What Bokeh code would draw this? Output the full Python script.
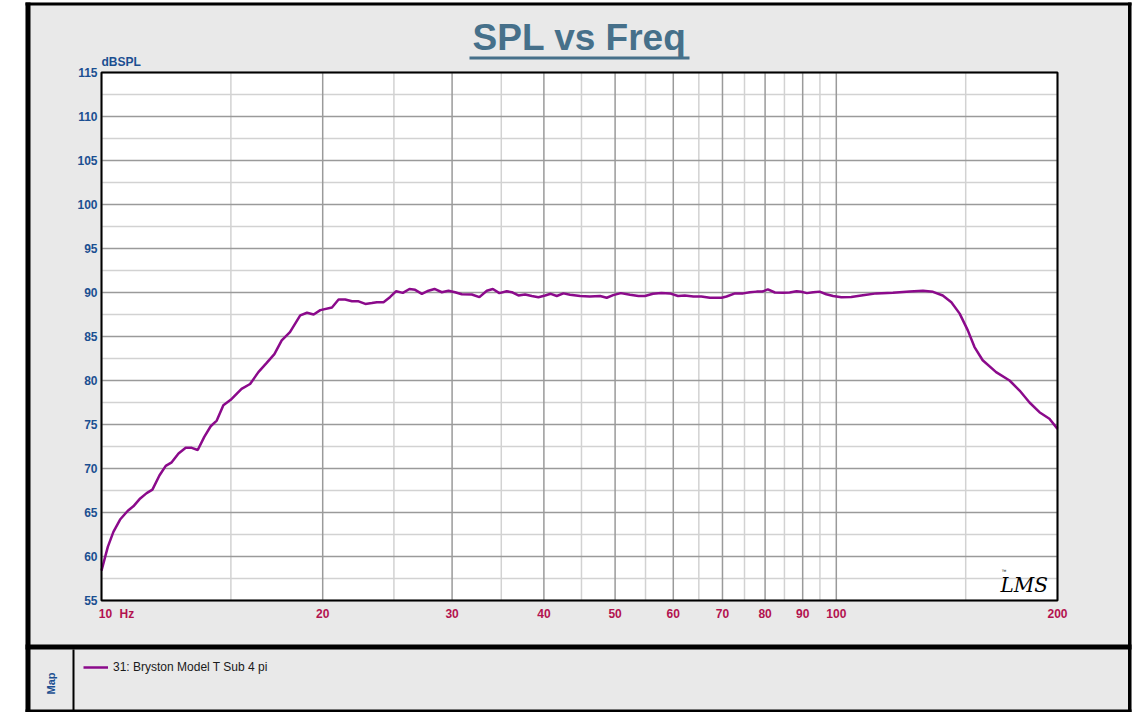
import math
from bokeh.plotting import figure
from bokeh.models import Range1d, LogScale, Legend, LegendItem
from bokeh.core.properties import value
from bokeh.embed import file_html
from bokeh.resources import INLINE

# ---- data ----
freq = [10.0, 10.2, 10.38, 10.6, 10.86, 11.05, 11.29, 11.52, 11.73, 11.99,
        12.23, 12.46, 12.73, 13.02, 13.27, 13.52, 13.8, 14.08, 14.35, 14.65,
        14.99, 15.51, 15.93, 16.35, 16.78, 17.19, 17.59, 18.05, 18.64, 19.04,
        19.44, 19.85, 20.59, 21.02, 21.46, 21.92, 22.38, 22.86, 23.33, 23.7,
        24.2, 24.71, 25.18, 25.71, 26.25, 26.72, 27.29, 27.86, 28.39, 29.05,
        29.66, 30.28, 30.93, 31.91, 32.68, 33.45, 34.09, 34.79, 35.6, 36.17,
        36.93, 37.71, 38.51, 39.32, 40.15, 40.87, 41.65, 42.52, 43.42, 44.8,
        46.2, 47.7, 48.7, 49.7, 50.9, 52.4, 53.8, 54.9, 56.3, 57.8,
        59.35, 60.9, 62.2, 63.9, 65.5, 67.3, 69.8, 70.9, 72.8, 74.7,
        76.3, 77.9, 79.3, 80.7, 82.5, 84.6, 86.4, 88.3, 89.6, 91.2,
        93.0, 94.9, 96.9, 99.0, 101.6, 104.8, 108.7, 113.4, 119.4, 125.9,
        131.2, 135.4, 139.6, 143.4, 147.2, 151.0, 154.2, 158.2, 165.0, 172.1,
        177.6, 183.2, 189.0, 195.0, 200.0]
spl = [58.4, 61.1, 62.8, 64.2, 65.2, 65.7, 66.6, 67.2, 67.6, 69.2,
       70.3, 70.7, 71.7, 72.35, 72.35, 72.1, 73.6, 74.8, 75.45, 77.2,
       77.8, 79.05, 79.6, 80.95, 82.0, 83.0, 84.55, 85.5, 87.4, 87.7,
       87.5, 88.0, 88.3, 89.2, 89.2, 89.0, 89.0, 88.7, 88.8, 88.9,
       88.9, 89.5, 90.15, 89.96, 90.4, 90.3, 89.85, 90.2, 90.4, 90.03,
       90.2, 90.03, 89.8, 89.77, 89.47, 90.2, 90.4, 89.93, 90.15, 90.03,
       89.66, 89.77, 89.6, 89.47, 89.66, 89.85, 89.6, 89.9, 89.74, 89.6,
       89.55, 89.6, 89.4, 89.7, 89.93, 89.74, 89.6, 89.6, 89.85, 89.93,
       89.9, 89.6, 89.66, 89.55, 89.55, 89.4, 89.4, 89.55, 89.9, 89.9,
       90.03, 90.1, 90.1, 90.35, 90.0, 89.96, 90.0, 90.15, 90.08, 89.93,
       90.03, 90.1, 89.8, 89.6, 89.47, 89.5, 89.7, 89.9, 89.96, 90.1,
       90.2, 90.08, 89.66, 88.9, 87.6, 85.7, 83.8, 82.3, 80.95, 80.0,
       78.86, 77.5, 76.4, 75.65, 74.5]
series_name = "31: Bryston Model T Sub 4 pi"
title_text = "SPL vs Freq"
y_unit = "dBSPL"
x_unit = "Hz"
x_major = [10, 20, 30, 40, 50, 60, 70, 80, 90, 100, 200]
x_minor = [15, 25, 35, 45, 55, 65, 75, 85, 95, 150]
y_major = [55, 60, 65, 70, 75, 80, 85, 90, 95, 100, 105, 110, 115]
y_minor = [57.5, 62.5, 67.5, 72.5, 77.5, 82.5, 87.5, 92.5, 97.5, 102.5, 107.5, 112.5]

# ---- style / layout ----
FONT = "Liberation Sans"
BLUE = "#1b4f91"
CRIMSON = "#b3124f"
PURPLE = "#8b0a8b"
TITLE = "#46708a"
PANEL = "#e9e9e9"
W, H = 1132, 712
X0, X1, Y0, Y1 = 101, 1057, 72, 600          # plot area on the canvas (px)
F0, F1, S0, S1 = 10, 200, 55, 115             # plot area in data units

dec = (X1 - X0) / math.log10(F1 / F0)
pxdb = (Y1 - Y0) / (S1 - S0)

p = figure(width=W, height=H, min_border=0, title=None,
           x_range=Range1d(0, W), y_range=Range1d(H, 0),
           x_axis_location=None, y_axis_location=None,
           toolbar_location=None, output_backend="svg",
           outline_line_color=None, background_fill_color="white", border_fill_color="white")
p.grid.visible = False
p.extra_x_ranges = {"f": Range1d(F0 * 10 ** (-X0 / dec), F1 * 10 ** ((W - X1) / dec))}
p.extra_x_scales = {"f": LogScale()}
p.extra_y_ranges = {"s": Range1d(S0 - (H - Y1) / pxdb, S1 + Y0 / pxdb)}

# panels
p.quad(left=[25], right=[1131], top=[2], bottom=[H], fill_color=PANEL, line_color=None)
# plot area
p.quad(left=[F0], right=[F1], bottom=[S0], top=[S1], x_range_name="f", y_range_name="s",
       fill_color="white", line_color=None)

# grid
p.segment(x0=x_minor, x1=x_minor, y0=S0, y1=S1, x_range_name="f", y_range_name="s",
          line_color="#d2d2d2", line_width=1.5)
p.segment(x0=F0, x1=F1, y0=y_minor, y1=y_minor, x_range_name="f", y_range_name="s",
          line_color="#d2d2d2", line_width=1.5)
p.segment(x0=x_major, x1=x_major, y0=S0, y1=S1, x_range_name="f", y_range_name="s",
          line_color="#9a9a9a", line_width=1.5)
p.segment(x0=F0, x1=F1, y0=y_major, y1=y_major, x_range_name="f", y_range_name="s",
          line_color="#9a9a9a", line_width=1.5)

# data
r = p.line(freq, spl, x_range_name="f", y_range_name="s", line_color=PURPLE, line_width=2.5)

# plot outline
p.quad(left=[F0], right=[F1], bottom=[S0], top=[S1], x_range_name="f", y_range_name="s",
       fill_color=None, line_color="black", line_width=2)

# panel borders
p.quad(left=[25, 1127.5, 25, 25, 25, 72], right=[30, 1131, 1131, 1131, 1131, 74],
       top=[2, 2, 2, 644, 709, 649], bottom=[H, H, 5, 649, H, H],
       fill_color="black", line_color=None)

# tick labels
p.text(x=[X0 - 4] * len(y_major), y=y_major, text=[str(v) for v in y_major], y_range_name="s",
       text_font=value(FONT), text_font_style="bold", text_font_size="12px",
       text_color=BLUE, text_align="right", text_baseline="middle")
p.text(x=x_major, y=[Y1 + 13] * len(x_major), text=[str(v) for v in x_major], x_range_name="f",
       x_offset=[4] + [0] * (len(x_major) - 1),
       text_font=value(FONT), text_font_style="bold", text_font_size="12px",
       text_color=CRIMSON, text_align="center", text_baseline="middle")
p.text(x=[119], y=[Y1 + 13], text=[x_unit],
       text_font=value(FONT), text_font_style="bold", text_font_size="12px",
       text_color=CRIMSON, text_align="left", text_baseline="middle")
p.text(x=[X0], y=[61], text=[y_unit],
       text_font=value(FONT), text_font_style="bold", text_font_size="12px",
       text_color=BLUE, text_align="left", text_baseline="middle")

# title with underline
p.text(x=[(X0 + X1) / 2], y=[37], text=[title_text],
       text_font=value(FONT), text_font_style="bold", text_font_size="37px",
       text_color=TITLE, text_align="center", text_baseline="middle")
p.quad(left=[469], right=[689], top=[56], bottom=[59], fill_color=TITLE, line_color=None)

# Map label
p.text(x=[50], y=[683], text=["Map"], angle=math.pi / 2,
       text_font=value(FONT), text_font_style="bold", text_font_size="11px",
       text_color=BLUE, text_align="center", text_baseline="middle")

# LMS logo
p.text(x=[1000], y=[584], text=["LMS"],
       text_font=value("DejaVu Serif"), text_font_style="italic", text_font_size="20px",
       text_color="black", text_align="left", text_baseline="middle")
p.text(x=[1001], y=[570], text=["™"],
       text_font=value(FONT), text_font_size="5px",
       text_color="black", text_align="left", text_baseline="middle")

# legend in the map panel
legend = Legend(items=[LegendItem(label=series_name, renderers=[r])],
                location=(83, H - 676.5), orientation="vertical",
                background_fill_alpha=0, border_line_color=None,
                label_text_font=FONT, label_text_font_size="12px", label_text_color="#1a1a1a",
                glyph_width=25, glyph_height=20, label_height=20,
                label_standoff=5, padding=0, margin=0)
p.add_layout(legend)

open("out.html", "w").write(file_html(p, INLINE))
